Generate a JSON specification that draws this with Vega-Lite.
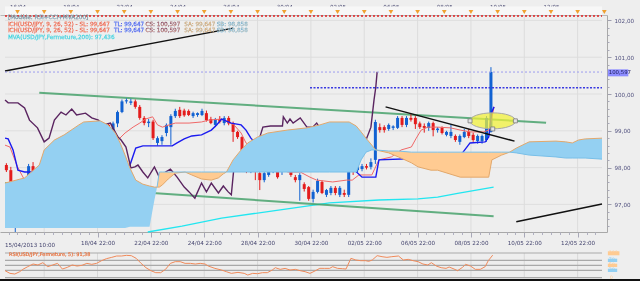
{
"$schema": "https://vega.github.io/schema/vega-lite/v6.json",
"width": 640, "height": 281, "padding": 0,
"autosize": {"type": "none"},
"background": "#eeeeee",
"config": {"view": {"stroke": null}, "font": "DejaVu Sans", "axis": {"grid": false, "labelFont": "DejaVu Sans", "labelOverlap": false}},
"datasets": {
"candles": [
{"t":-2.5,"o":98.07,"h":98.12,"l":97.88,"c":97.93},{"t":-1.5,"o":97.93,"h":98.02,"l":96.7,"c":96.79},{"t":-0.5,"o":96.79,"h":96.95,"l":96.25,"c":96.88},{"t":0.5,"o":96.88,"h":97.4,"l":96.6,"c":97.34},{"t":1.5,"o":97.34,"h":97.72,"l":97.3,"c":97.62},{"t":2.5,"o":97.62,"h":98.1,"l":97.55,"c":98.04},{"t":3.5,"o":98.04,"h":98.15,"l":97.6,"c":97.66},{"t":4.5,"o":97.66,"h":97.75,"l":97.45,"c":97.58},{"t":5.5,"o":97.58,"h":98.05,"l":97.5,"c":97.99},{"t":6.5,"o":97.99,"h":98.45,"l":97.95,"c":98.4},
{"t":7.5,"o":98.4,"h":98.45,"l":98.15,"c":98.21},{"t":8.5,"o":98.21,"h":98.3,"l":98.0,"c":98.07},{"t":9.5,"o":98.07,"h":98.15,"l":97.4,"c":97.45},{"t":10.5,"o":97.45,"h":98.2,"l":97.35,"c":98.12},{"t":11.5,"o":98.12,"h":98.2,"l":97.8,"c":97.88},{"t":12.5,"o":97.88,"h":98.05,"l":97.8,"c":98.0},{"t":13.5,"o":98.0,"h":98.2,"l":97.95,"c":98.15},{"t":14.5,"o":98.15,"h":98.4,"l":98.1,"c":98.34},{"t":15.5,"o":98.34,"h":98.4,"l":98.1,"c":98.13},{"t":16.5,"o":98.13,"h":98.25,"l":98.05,"c":98.18},
{"t":17.5,"o":98.18,"h":98.28,"l":98.1,"c":98.22},{"t":18.5,"o":98.22,"h":98.52,"l":98.15,"c":98.48},{"t":19.5,"o":98.48,"h":99.2,"l":98.45,"c":99.16},{"t":20.5,"o":99.16,"h":99.2,"l":98.95,"c":99.02},{"t":21.5,"o":99.02,"h":99.25,"l":98.98,"c":99.2},{"t":22.5,"o":99.2,"h":99.55,"l":99.1,"c":99.51},{"t":23.5,"o":99.51,"h":99.85,"l":99.48,"c":99.8},{"t":24.5,"o":99.8,"h":99.88,"l":99.74,"c":99.83},{"t":25.5,"o":99.76,"h":99.87,"l":99.7,"c":99.8},{"t":26.5,"o":99.8,"h":99.85,"l":99.6,"c":99.65},
{"t":27.5,"o":99.65,"h":99.7,"l":99.3,"c":99.35},{"t":28.5,"o":99.35,"h":99.4,"l":99.15,"c":99.21},{"t":29.5,"o":99.21,"h":99.32,"l":99.1,"c":99.25},{"t":30.5,"o":99.25,"h":99.3,"l":98.75,"c":98.8},{"t":31.5,"o":98.67,"h":98.85,"l":98.6,"c":98.8},{"t":32.5,"o":98.72,"h":98.88,"l":98.62,"c":98.83},{"t":33.5,"o":98.94,"h":99.2,"l":98.85,"c":99.16},{"t":34.5,"o":99.1,"h":99.45,"l":98.62,"c":99.4},{"t":35.5,"o":99.4,"h":99.6,"l":99.35,"c":99.54},{"t":36.5,"o":99.57,"h":99.65,"l":99.35,"c":99.4},
{"t":37.5,"o":99.55,"h":99.6,"l":99.38,"c":99.42},{"t":38.5,"o":99.54,"h":99.58,"l":99.4,"c":99.43},{"t":39.5,"o":99.4,"h":99.52,"l":99.35,"c":99.48},{"t":40.5,"o":99.43,"h":99.5,"l":99.38,"c":99.48},{"t":41.5,"o":99.43,"h":99.6,"l":99.4,"c":99.54},{"t":42.5,"o":99.48,"h":99.55,"l":99.25,"c":99.29},{"t":43.5,"o":99.32,"h":99.38,"l":99.18,"c":99.21},{"t":44.5,"o":99.16,"h":99.35,"l":99.1,"c":99.32},{"t":45.5,"o":99.32,"h":99.4,"l":99.2,"c":99.25},{"t":46.5,"o":99.21,"h":99.4,"l":99.15,"c":99.35},
{"t":47.5,"o":99.35,"h":99.4,"l":99.15,"c":99.2},{"t":48.5,"o":99.21,"h":99.25,"l":98.7,"c":98.97},{"t":49.5,"o":98.97,"h":99.0,"l":98.78,"c":98.83},{"t":50.5,"o":98.83,"h":98.85,"l":98.45,"c":98.48},{"t":51.5,"o":98.45,"h":98.5,"l":97.85,"c":97.93},{"t":52.5,"o":97.93,"h":98.1,"l":97.85,"c":98.07},{"t":53.5,"o":97.96,"h":98.05,"l":97.66,"c":97.88},{"t":54.5,"o":97.85,"h":97.9,"l":97.39,"c":97.66},{"t":55.5,"o":97.66,"h":97.9,"l":97.6,"c":97.85},{"t":56.5,"o":97.8,"h":98.0,"l":97.75,"c":97.99},
{"t":57.5,"o":97.88,"h":98.21,"l":97.85,"c":98.07},{"t":58.5,"o":98.04,"h":98.1,"l":97.7,"c":97.74},{"t":59.5,"o":97.88,"h":98.0,"l":97.8,"c":97.96},{"t":60.5,"o":97.93,"h":98.05,"l":97.88,"c":97.96},{"t":61.5,"o":97.93,"h":97.98,"l":97.75,"c":97.8},{"t":62.5,"o":97.74,"h":97.8,"l":97.6,"c":97.66},{"t":63.5,"o":97.66,"h":97.85,"l":97.1,"c":97.8},{"t":64.5,"o":97.55,"h":97.6,"l":97.35,"c":97.42},{"t":65.5,"o":97.47,"h":97.5,"l":97.1,"c":97.15},{"t":66.5,"o":97.15,"h":97.4,"l":97.05,"c":97.34},
{"t":67.5,"o":97.34,"h":97.7,"l":97.3,"c":97.64},{"t":68.5,"o":97.61,"h":97.65,"l":97.28,"c":97.31},{"t":69.5,"o":97.26,"h":97.42,"l":97.2,"c":97.39},{"t":70.5,"o":97.31,"h":97.5,"l":97.25,"c":97.45},{"t":71.5,"o":97.45,"h":97.5,"l":97.25,"c":97.31},{"t":72.5,"o":97.26,"h":97.5,"l":97.2,"c":97.45},{"t":73.5,"o":97.31,"h":97.4,"l":97.2,"c":97.26},{"t":74.5,"o":97.26,"h":98.4,"l":97.2,"c":98.07},{"t":75.5,"o":98.02,"h":98.1,"l":97.8,"c":97.88},{"t":76.5,"o":97.93,"h":98.1,"l":97.88,"c":98.04},
{"t":77.5,"o":97.96,"h":98.1,"l":97.9,"c":98.04},{"t":78.5,"o":98.04,"h":98.1,"l":97.95,"c":98.0},{"t":79.5,"o":98.02,"h":98.25,"l":97.95,"c":98.15},{"t":80.5,"o":98.21,"h":99.3,"l":98.1,"c":99.24},{"t":81.5,"o":99.1,"h":99.2,"l":98.95,"c":99.02},{"t":82.5,"o":99.1,"h":99.15,"l":98.95,"c":99.02},{"t":83.5,"o":99.05,"h":99.2,"l":99.0,"c":99.16},{"t":84.5,"o":99.08,"h":99.15,"l":99.02,"c":99.12},{"t":85.5,"o":99.08,"h":99.4,"l":99.05,"c":99.35},{"t":86.5,"o":99.35,"h":99.4,"l":99.1,"c":99.16},
{"t":87.5,"o":99.16,"h":99.4,"l":99.1,"c":99.35},{"t":88.5,"o":99.35,"h":99.45,"l":99.25,"c":99.3},{"t":89.5,"o":99.35,"h":99.4,"l":99.05,"c":99.18},{"t":90.5,"o":99.2,"h":99.25,"l":99.05,"c":99.1},{"t":91.5,"o":99.13,"h":99.2,"l":98.95,"c":99.08},{"t":92.5,"o":99.08,"h":99.25,"l":99.0,"c":99.21},{"t":93.5,"o":99.21,"h":99.25,"l":98.85,"c":99.02},{"t":94.5,"o":99.02,"h":99.1,"l":98.95,"c":99.06},{"t":95.5,"o":99.08,"h":99.12,"l":98.9,"c":98.94},{"t":96.5,"o":98.89,"h":99.0,"l":98.85,"c":98.97},
{"t":97.5,"o":98.86,"h":99.16,"l":98.8,"c":98.97},{"t":98.5,"o":98.86,"h":98.9,"l":98.7,"c":98.75},{"t":99.5,"o":98.7,"h":98.9,"l":98.62,"c":98.86},{"t":100.5,"o":98.83,"h":99.05,"l":98.8,"c":98.97},{"t":101.5,"o":98.97,"h":99.05,"l":98.8,"c":98.86},{"t":102.5,"o":98.89,"h":98.95,"l":98.7,"c":98.75},{"t":103.5,"o":98.72,"h":98.9,"l":98.65,"c":98.86},{"t":104.5,"o":98.72,"h":98.9,"l":98.65,"c":98.86},{"t":105.5,"o":98.75,"h":99.4,"l":98.7,"c":99.35},{"t":106.5,"o":98.97,"h":100.73,"l":98.95,"c":100.6}
],
"tenkan": [
{"t":-2.8,"v":98.61},{"t":-1.7,"v":98.56},{"t":0.0,"v":98.02},{"t":1.6,"v":97.66},{"t":3.2,"v":97.34},{"t":4.5,"v":97.12},{"t":6.5,"v":97.07},{"t":7.8,"v":97.07},{"t":8.9,"v":97.26},{"t":10.5,"v":97.47},{"t":13.1,"v":97.8},{"t":14.9,"v":97.88},{"t":16.7,"v":97.93},{"t":18.2,"v":97.99},{"t":19.3,"v":98.29},{"t":20.4,"v":98.42},{"t":21.5,"v":98.56},{"t":22.6,"v":98.75},{"t":24.2,"v":98.94},{"t":26.0,"v":99.1},{"t":27.5,"v":99.21},{"t":28.8,"v":99.32},{"t":30.4,"v":99.38},{"t":31.5,"v":99.16},{"t":32.6,"v":99.1},{"t":34.1,"v":99.16},{"t":35.5,"v":99.21},{"t":38.6,"v":99.21},{"t":41.4,"v":99.24},{"t":43.0,"v":99.29},{"t":45.9,"v":99.32},{"t":48.7,"v":99.16},{"t":50.3,"v":98.94},{"t":51.4,"v":98.67},{"t":52.1,"v":98.61},{"t":53.2,"v":98.53},{"t":54.7,"v":98.34},{"t":56.9,"v":98.26},{"t":59.1,"v":98.15},{"t":60.7,"v":97.88},{"t":63.6,"v":97.88},{"t":65.8,"v":97.74},{"t":67.3,"v":97.66},{"t":70.9,"v":97.61},{"t":74.0,"v":97.66},{"t":75.3,"v":97.66},{"t":76.8,"v":97.8},{"t":79.7,"v":97.8},{"t":81.3,"v":98.21},{"t":84.1,"v":98.29},{"t":86.3,"v":98.48},{"t":88.6,"v":98.56},{"t":89.7,"v":98.8},{"t":90.8,"v":99.02},{"t":92.3,"v":99.1},{"t":94.5,"v":99.1},{"t":97.4,"v":99.08},{"t":99.6,"v":99.02},{"t":101.8,"v":98.97},{"t":104.9,"v":98.97},{"t":106.0,"v":99.02},{"t":106.7,"v":99.35},{"t":107.2,"v":99.65}
],
"kijun": [
{"t":-2.8,"v":98.8},{"t":-2.1,"v":98.78},{"t":-1.0,"v":98.48},{"t":0.1,"v":97.93},{"t":1.6,"v":97.88},{"t":12.0,"v":97.88},{"t":13.1,"v":97.74},{"t":14.9,"v":97.61},{"t":17.5,"v":97.47},{"t":18.9,"v":97.31},{"t":20.9,"v":97.58},{"t":23.1,"v":97.85},{"t":25.3,"v":98.07},{"t":26.6,"v":98.53},{"t":28.2,"v":98.59},{"t":34.8,"v":98.59},{"t":35.9,"v":98.67},{"t":37.5,"v":98.78},{"t":39.2,"v":98.86},{"t":41.4,"v":98.89},{"t":43.6,"v":99.02},{"t":44.8,"v":99.16},{"t":45.9,"v":99.32},{"t":48.1,"v":99.21},{"t":50.3,"v":99.16},{"t":51.4,"v":99.02},{"t":52.5,"v":98.8},{"t":54.0,"v":98.61},{"t":62.9,"v":98.59},{"t":64.2,"v":98.42},{"t":65.8,"v":98.32},{"t":70.9,"v":98.29},{"t":72.9,"v":98.26},{"t":74.2,"v":98.15},{"t":75.3,"v":97.99},{"t":77.5,"v":97.74},{"t":80.6,"v":97.74},{"t":81.3,"v":98.21},{"t":92.3,"v":98.26},{"t":99.0,"v":98.29},{"t":100.1,"v":98.4},{"t":101.8,"v":98.67},{"t":105.2,"v":98.7},{"t":106.0,"v":98.83},{"t":106.7,"v":99.51},{"t":107.2,"v":99.65}
],
"chikou": [
{"t":-2.8,"v":99.84},{"t":-2.1,"v":99.76},{"t":0.1,"v":99.76},{"t":1.6,"v":99.62},{"t":2.7,"v":99.29},{"t":4.5,"v":99.08},{"t":6.0,"v":98.7},{"t":7.1,"v":98.8},{"t":8.3,"v":99.29},{"t":9.8,"v":99.51},{"t":10.9,"v":99.43},{"t":12.2,"v":99.59},{"t":13.3,"v":99.43},{"t":15.3,"v":99.48},{"t":16.7,"v":99.35},{"t":18.2,"v":99.29},{"t":19.3,"v":99.16},{"t":20.9,"v":99.21},{"t":22.6,"v":98.83},{"t":23.3,"v":98.75},{"t":24.4,"v":98.56},{"t":25.5,"v":97.99},{"t":26.4,"v":98.02},{"t":27.1,"v":98.07},{"t":28.2,"v":97.88},{"t":29.3,"v":97.72},{"t":30.8,"v":98.02},{"t":31.9,"v":97.74},{"t":33.3,"v":97.88},{"t":34.4,"v":97.96},{"t":35.9,"v":97.74},{"t":37.5,"v":97.47},{"t":38.6,"v":97.34},{"t":39.9,"v":97.17},{"t":41.4,"v":97.58},{"t":42.5,"v":97.34},{"t":43.6,"v":97.58},{"t":45.2,"v":97.31},{"t":46.3,"v":97.5},{"t":47.4,"v":97.34},{"t":48.1,"v":97.26},{"t":48.7,"v":98.02},{"t":50.3,"v":97.96},{"t":51.8,"v":97.96},{"t":52.9,"v":97.99},{"t":54.0,"v":98.13},{"t":54.3,"v":98.75},{"t":55.2,"v":99.1},{"t":56.9,"v":99.13},{"t":59.6,"v":99.13},{"t":59.8,"v":99.38},{"t":60.7,"v":99.21},{"t":61.3,"v":99.32},{"t":62.0,"v":99.21},{"t":63.6,"v":99.35},{"t":65.1,"v":99.1},{"t":66.4,"v":99.1},{"t":67.3,"v":99.21},{"t":68.0,"v":99.08},{"t":69.5,"v":99.08},{"t":70.6,"v":98.94},{"t":71.7,"v":99.02},{"t":73.1,"v":98.75},{"t":74.6,"v":98.97},{"t":76.2,"v":98.89},{"t":77.5,"v":98.72},{"t":78.4,"v":98.75},{"t":79.5,"v":99.1},{"t":80.2,"v":99.84},{"t":80.6,"v":100.19},{"t":80.9,"v":100.6}
],
"cloud": [
{"seg":"c1","kind":"bull","t":-2.81,"sa":97.58,"sb":96.36},{"seg":"c1","kind":"bull","t":1.6,"sa":97.72,"sb":96.36},{"seg":"c1","kind":"bull","t":4.9,"sa":98.07,"sb":96.36},{"seg":"c1","kind":"bull","t":6.0,"sa":98.48,"sb":96.36},{"seg":"c1","kind":"bull","t":8.3,"sa":98.75,"sb":96.36},{"seg":"c1","kind":"bull","t":10.5,"sa":98.89,"sb":96.36},{"seg":"c1","kind":"bull","t":13.8,"sa":99.16,"sb":96.36},{"seg":"c1","kind":"bull","t":14.9,"sa":99.24,"sb":96.36},{"seg":"c1","kind":"bull","t":18.6,"sa":99.27,"sb":96.36},{"seg":"c1","kind":"bull","t":20.4,"sa":99.16,"sb":96.36},{"seg":"c1","kind":"bull","t":22.0,"sa":98.94,"sb":96.36},{"seg":"c1","kind":"bull","t":23.1,"sa":98.67,"sb":96.36},{"seg":"c1","kind":"bull","t":24.2,"sa":98.34,"sb":96.36},{"seg":"c1","kind":"bull","t":25.3,"sa":97.99,"sb":96.39},{"seg":"c1","kind":"bull","t":26.6,"sa":97.66,"sb":96.39},{"seg":"c1","kind":"bull","t":28.2,"sa":97.55,"sb":96.39},{"seg":"c1","kind":"bull","t":29.7,"sa":97.5,"sb":96.39},{"seg":"c1","kind":"bull","t":30.8,"sa":97.47,"sb":97.12},{"seg":"c1","kind":"bull","t":31.4,"sa":97.47,"sb":97.47},
{"seg":"c2","kind":"bear","t":31.4,"sa":97.47,"sb":97.47},{"seg":"c2","kind":"bear","t":31.9,"sa":97.47,"sb":97.88},{"seg":"c2","kind":"bear","t":32.6,"sa":97.53,"sb":97.88},{"seg":"c2","kind":"bear","t":33.9,"sa":97.69,"sb":97.88},{"seg":"c2","kind":"bear","t":35.5,"sa":97.85,"sb":97.88},{"seg":"c2","kind":"bear","t":37.7,"sa":97.88,"sb":97.88},{"seg":"c2","kind":"bear","t":39.2,"sa":97.8,"sb":97.88},{"seg":"c2","kind":"bear","t":41.4,"sa":97.69,"sb":97.88},{"seg":"c2","kind":"bear","t":43.6,"sa":97.66,"sb":97.88},{"seg":"c2","kind":"bear","t":45.2,"sa":97.72,"sb":97.88},{"seg":"c2","kind":"bear","t":46.3,"sa":97.83,"sb":97.88},{"seg":"c2","kind":"bear","t":47.0,"sa":97.88,"sb":97.88},
{"seg":"c3","kind":"bull","t":47.0,"sa":97.88,"sb":97.88},{"seg":"c3","kind":"bull","t":48.5,"sa":98.21,"sb":97.88},{"seg":"c3","kind":"bull","t":50.3,"sa":98.48,"sb":97.88},{"seg":"c3","kind":"bull","t":51.8,"sa":98.67,"sb":97.88},{"seg":"c3","kind":"bull","t":54.0,"sa":98.83,"sb":97.88},{"seg":"c3","kind":"bull","t":56.3,"sa":98.94,"sb":97.88},{"seg":"c3","kind":"bull","t":60.7,"sa":99.02,"sb":97.88},{"seg":"c3","kind":"bull","t":65.1,"sa":99.08,"sb":97.88},{"seg":"c3","kind":"bull","t":68.0,"sa":99.16,"sb":97.88},{"seg":"c3","kind":"bull","t":70.2,"sa":99.24,"sb":97.88},{"seg":"c3","kind":"bull","t":74.6,"sa":99.24,"sb":97.88},{"seg":"c3","kind":"bull","t":76.2,"sa":99.13,"sb":97.88},{"seg":"c3","kind":"bull","t":77.3,"sa":98.97,"sb":98.21},{"seg":"c3","kind":"bull","t":78.4,"sa":98.8,"sb":98.42},{"seg":"c3","kind":"bull","t":79.7,"sa":98.61,"sb":98.48},{"seg":"c3","kind":"bull","t":80.6,"sa":98.48,"sb":98.48},
{"seg":"c4","kind":"bear","t":80.6,"sa":98.48,"sb":98.48},{"seg":"c4","kind":"bear","t":83.5,"sa":98.4,"sb":98.45},{"seg":"c4","kind":"bear","t":85.7,"sa":98.29,"sb":98.45},{"seg":"c4","kind":"bear","t":88.6,"sa":98.13,"sb":98.42},{"seg":"c4","kind":"bear","t":90.1,"sa":98.02,"sb":98.42},{"seg":"c4","kind":"bear","t":93.0,"sa":97.93,"sb":98.42},{"seg":"c4","kind":"bear","t":94.5,"sa":97.93,"sb":98.42},{"seg":"c4","kind":"bear","t":99.6,"sa":97.74,"sb":98.42},{"seg":"c4","kind":"bear","t":106.0,"sa":97.74,"sb":98.42},{"seg":"c4","kind":"bear","t":106.7,"sa":98.21,"sb":98.42},{"seg":"c4","kind":"bear","t":108.9,"sa":98.34,"sb":98.42},{"seg":"c4","kind":"bear","t":110.7,"sa":98.42,"sb":98.42},
{"seg":"c5","kind":"bull","t":110.7,"sa":98.42,"sb":98.42},{"seg":"c5","kind":"bull","t":112.2,"sa":98.53,"sb":98.4},{"seg":"c5","kind":"bull","t":115.1,"sa":98.7,"sb":98.34},{"seg":"c5","kind":"bull","t":121.1,"sa":98.72,"sb":98.29},{"seg":"c5","kind":"bull","t":123.3,"sa":98.7,"sb":98.26},{"seg":"c5","kind":"bull","t":124.8,"sa":98.67,"sb":98.26},{"seg":"c5","kind":"bull","t":126.2,"sa":98.75,"sb":98.26},{"seg":"c5","kind":"bull","t":127.7,"sa":98.78,"sb":98.26},{"seg":"c5","kind":"bull","t":131.48,"sa":98.8,"sb":98.23}
],
"rsi": [
{"t":-2.8,"r":28.4},{"t":-1.7,"r":17.6},{"t":-0.6,"r":14.9},{"t":0.5,"r":24.3},{"t":1.2,"r":33.8},{"t":2.3,"r":44.6},{"t":3.5,"r":55.4},{"t":4.6,"r":51.4},{"t":5.7,"r":60.8},{"t":6.8,"r":44.6},{"t":7.9,"r":51.4},{"t":9.0,"r":58.1},{"t":10.1,"r":35.1},{"t":11.2,"r":41.9},{"t":12.3,"r":51.4},{"t":13.4,"r":47.3},{"t":14.5,"r":50.0},{"t":15.6,"r":58.1},{"t":16.7,"r":54.1},{"t":17.8,"r":58.1},{"t":18.9,"r":68.9},{"t":20.0,"r":77.0},{"t":21.2,"r":82.4},{"t":22.3,"r":87.8},{"t":23.4,"r":87.8},{"t":24.5,"r":90.5},{"t":25.6,"r":89.2},{"t":26.7,"r":78.4},{"t":27.8,"r":58.1},{"t":28.9,"r":40.5},{"t":30.0,"r":28.4},{"t":31.1,"r":20.3},{"t":32.2,"r":20.3},{"t":33.3,"r":33.8},{"t":34.4,"r":58.1},{"t":35.5,"r":64.9},{"t":36.6,"r":64.9},{"t":37.7,"r":58.1},{"t":38.9,"r":58.1},{"t":40.0,"r":55.4},{"t":41.1,"r":58.1},{"t":42.2,"r":55.4},{"t":42.9,"r":47.3},{"t":44.4,"r":37.8},{"t":45.9,"r":31.1},{"t":47.0,"r":24.3},{"t":48.1,"r":17.6},{"t":49.6,"r":21.6},{"t":51.0,"r":17.6},{"t":51.8,"r":10.8},{"t":52.9,"r":17.6},{"t":54.0,"r":16.2},{"t":55.1,"r":20.3},{"t":56.2,"r":20.3},{"t":57.3,"r":31.1},{"t":58.0,"r":40.5},{"t":59.1,"r":33.8},{"t":60.2,"r":37.8},{"t":61.3,"r":31.1},{"t":62.5,"r":33.8},{"t":63.6,"r":28.4},{"t":64.7,"r":24.3},{"t":65.8,"r":17.6},{"t":66.9,"r":27.0},{"t":68.0,"r":38.0},{"t":69.1,"r":37.8},{"t":70.2,"r":37.8},{"t":70.9,"r":44.6},{"t":72.0,"r":37.8},{"t":73.1,"r":36.5},{"t":73.9,"r":35.1},{"t":75.0,"r":78.4},{"t":76.1,"r":71.6},{"t":77.2,"r":68.9},{"t":78.3,"r":68.9},{"t":79.0,"r":66.2},{"t":79.8,"r":71.6},{"t":80.9,"r":89.2},{"t":82.0,"r":85.1},{"t":83.1,"r":82.4},{"t":84.2,"r":85.1},{"t":85.7,"r":87.8},{"t":86.8,"r":71.6},{"t":87.9,"r":74.3},{"t":89.0,"r":68.9},{"t":90.1,"r":64.9},{"t":91.2,"r":55.4},{"t":92.3,"r":51.4},{"t":93.1,"r":60.8},{"t":94.2,"r":47.3},{"t":95.3,"r":40.5},{"t":96.4,"r":37.8},{"t":97.1,"r":43.2},{"t":98.2,"r":35.1},{"t":99.0,"r":28.4},{"t":100.1,"r":41.9},{"t":100.8,"r":54.1},{"t":101.9,"r":47.3},{"t":103.0,"r":33.8},{"t":104.1,"r":33.8},{"t":105.2,"r":44.6},{"t":105.9,"r":68.9},{"t":106.9,"r":91.4}
],
"grid": [{"t":6},{"t":18},{"t":30},{"t":42},{"t":54},{"t":66},{"t":78},{"t":90},{"t":102},{"t":114},{"t":126}]
},
"resolve": {"scale": {"y": "independent"}, "axis": {"x": "independent", "y": "independent"}},
"layer": [
{
"layer": [
{"data": {"values": [{"a": 1}]}, "mark": {"type": "rect", "color": "#f7f7f7"},
 "encoding": {
  "x": {"datum": -2.81, "type": "quantitative", "scale": {"domain": [-2.81, 131.48], "range": [0, 607], "nice": false, "zero": false},
   "axis": {"orient": "top", "offset": -15, "title": null, "grid": false,
    "values": [0,6,12,18,24,30,36,42,48,54,60,66,72,78,84,90,96,102,108,114,120,126],
    "labelExpr": "['16/04','17/04','18/04','19/04','22/04','23/04','24/04','25/04','26/04','29/04','30/04','Mai','02/05','03/05','06/05','07/05','08/05','09/05','10/05','11/05','12/05','13/05'][round(datum.value / 6)]",
    "tickSize": 3, "tickColor": "#a8a8b8", "domainColor": "#b8b8b8", "labelFontSize": 5.6, "labelColor": "#44446e", "labelPadding": 2.5, "labelOverlap": false, "labelBound": false, "labelFlush": false}},
  "x2": {"datum": 131.48},
  "y": {"datum": 102.147, "type": "quantitative", "scale": {"domain": [96.25, 102.147], "range": [232, 15], "nice": false, "zero": false},
   "axis": {"orient": "right", "offset": -33, "title": null, "grid": false,
    "values": [97, 98, 99, 100, 101, 102],
    "labelExpr": "replace(format(datum.value, '.2f'), '.', ',')",
    "tickSize": 4, "tickColor": "#a0a0b0", "domainColor": "#a8a8a8", "labelFontSize": 5.6, "labelColor": "#50507e", "labelPadding": 3, "labelOverlap": false, "labelBound": false, "labelFlush": false}},
  "y2": {"datum": 102.378}
 }},
{"data": {"values": [{"v":97},{"v":98},{"v":99},{"v":100},{"v":101},{"v":102}]}, "mark": {"type": "rule", "color": "#dedede", "strokeWidth": 1},
 "encoding": {"x": {"datum": -2.81, "type": "quantitative"}, "x2": {"datum": 131.48}, "y": {"field": "v", "type": "quantitative"}}},
{"data": {"name": "grid"}, "mark": {"type": "rule", "color": "#dcdcdc", "strokeWidth": 1},
 "encoding": {"x": {"field": "t", "type": "quantitative"}, "y": {"datum": 96.25, "type": "quantitative"}, "y2": {"datum": 102.147}}},
{"data": {"values": [{"t":29.3,"v":96.25},{"t":37.0,"v":96.41},{"t":45.9,"v":96.63},{"t":59.1,"v":96.85},{"t":70.2,"v":97.04},{"t":81.3,"v":97.12},{"t":90.1,"v":97.15},{"t":94.5,"v":97.2},{"t":99.0,"v":97.3},{"t":107.1,"v":97.47}]},
 "mark": {"type": "line", "color": "#22e6f0", "strokeWidth": 1.3},
 "encoding": {"x": {"field": "t", "type": "quantitative"}, "y": {"field": "v", "type": "quantitative"}}},
{"data": {"values": [{"id":"up","t":4.9,"v":100.035},{"id":"up","t":118.9,"v":99.22},{"id":"lo","t":-2.81,"v":97.58},{"id":"lo","t":107.1,"v":96.68}]},
 "mark": {"type": "line", "color": "#3d9e64", "strokeWidth": 2, "opacity": 0.8},
 "encoding": {"x": {"field": "t", "type": "quantitative"}, "y": {"field": "v", "type": "quantitative"}, "detail": {"field": "id"}}},
{"data": {"name": "candles"}, "mark": {"type": "rule", "strokeWidth": 1},
 "encoding": {"x": {"field": "t", "type": "quantitative"}, "y": {"field": "l", "type": "quantitative"}, "y2": {"field": "h"},
  "color": {"condition": {"test": "datum.c >= datum.o", "value": "#1262d2"}, "value": "#e41c1c"}}},
{"data": {"name": "candles"}, "mark": {"type": "bar", "size": 3},
 "encoding": {"x": {"field": "t", "type": "quantitative"}, "y": {"field": "o", "type": "quantitative"}, "y2": {"field": "c"},
  "color": {"condition": {"test": "datum.c >= datum.o", "value": "#1262d2"}, "value": "#e41c1c"}}},
{"data": {"name": "tenkan"}, "mark": {"type": "line", "color": "#f06868", "strokeWidth": 1},
 "encoding": {"x": {"field": "t", "type": "quantitative"}, "y": {"field": "v", "type": "quantitative"}}},
{"data": {"name": "kijun"}, "mark": {"type": "line", "color": "#1a1af0", "strokeWidth": 1.4},
 "encoding": {"x": {"field": "t", "type": "quantitative"}, "y": {"field": "v", "type": "quantitative"}}},
{"data": {"name": "chikou"}, "mark": {"type": "line", "color": "#5a2460", "strokeWidth": 1.4},
 "encoding": {"x": {"field": "t", "type": "quantitative"}, "y": {"field": "v", "type": "quantitative"}}},
{"data": {"name": "cloud"}, "mark": {"type": "area", "blend": "multiply", "clip": true},
 "encoding": {"x": {"field": "t", "type": "quantitative"}, "y": {"field": "sa", "type": "quantitative"}, "y2": {"field": "sb"}, "detail": {"field": "seg"},
  "color": {"field": "kind", "type": "nominal", "scale": {"domain": ["bull", "bear"], "range": ["#94d0f2", "#ffcb92"]}, "legend": null}}},
{"data": {"name": "cloud"}, "mark": {"type": "line", "color": "#e2a86c", "strokeWidth": 1, "clip": true},
 "encoding": {"x": {"field": "t", "type": "quantitative"}, "y": {"field": "sa", "type": "quantitative"}}},
{"data": {"name": "cloud"}, "transform": [{"filter": "datum.t >= 31"}], "mark": {"type": "line", "color": "#78bfe8", "strokeWidth": 1, "clip": true},
 "encoding": {"x": {"field": "t", "type": "quantitative"}, "y": {"field": "sb", "type": "quantitative"}}},
{"data": {"values": [{"id":"a","t":-2.81,"v":100.625},{"id":"a","t":48.5,"v":101.79},{"id":"b","t":82.8,"v":99.65},{"id":"b","t":111.8,"v":98.72},{"id":"c","t":112.2,"v":96.53},{"id":"c","t":131.48,"v":97.01}]},
 "mark": {"type": "line", "color": "#111111", "strokeWidth": 1.5},
 "encoding": {"x": {"field": "t", "type": "quantitative"}, "y": {"field": "v", "type": "quantitative"}, "detail": {"field": "id"}}},
{"data": {"values": [{"t":-2.81,"v":102.12},{"t":131.48,"v":102.12}]}, "mark": {"type": "line", "color": "#e02020", "strokeWidth": 1.3, "strokeDash": [2, 2]},
 "encoding": {"x": {"field": "t", "type": "quantitative"}, "y": {"field": "v", "type": "quantitative"}}},
{"data": {"values": [{"t":-2.81,"v":100.597},{"t":131.48,"v":100.597}]}, "mark": {"type": "line", "color": "#9c9cee", "strokeWidth": 1, "strokeDash": [2, 2]},
 "encoding": {"x": {"field": "t", "type": "quantitative"}, "y": {"field": "v", "type": "quantitative"}}},
{"data": {"values": [{"t":65.8,"v":100.17},{"t":131.48,"v":100.17}]}, "mark": {"type": "line", "color": "#3a3ae0", "strokeWidth": 1.5, "strokeDash": [2, 1.5]},
 "encoding": {"x": {"field": "t", "type": "quantitative"}, "y": {"field": "v", "type": "quantitative"}}},
{"data": {"values": [{"t":106.9,"v":99.27}]},
 "mark": {"type": "point", "shape": "M-1,0C-1,-0.192,-0.5523,-0.348,0,-0.348C0.5523,-0.348,1,-0.192,1,0C1,0.192,0.5523,0.348,0,0.348C-0.5523,0.348,-1,0.192,-1,0Z", "size": 2116, "filled": true, "color": "#f2f236", "fillOpacity": 0.72, "stroke": "#a8a8a8", "strokeWidth": 1, "strokeOpacity": 1},
 "encoding": {"x": {"field": "t", "type": "quantitative"}, "y": {"field": "v", "type": "quantitative"}}},
{"data": {"values": [{"t":101.8,"v":99.27},{"t":112.0,"v":99.27},{"t":106.9,"v":99.05}]},
 "mark": {"type": "point", "shape": "square", "size": 16, "filled": true, "color": "#e4e4e4", "stroke": "#7a7a7a", "strokeWidth": 0.8, "opacity": 1},
 "encoding": {"x": {"field": "t", "type": "quantitative"}, "y": {"field": "v", "type": "quantitative"}}},
{"data": {"values": [{"t":0},{"t":6},{"t":12},{"t":18},{"t":24},{"t":30},{"t":36},{"t":42},{"t":48},{"t":54},{"t":60},{"t":66},{"t":72},{"t":78},{"t":84},{"t":90},{"t":96},{"t":102},{"t":108},{"t":114},{"t":120},{"t":126},{"t":132}]},
 "mark": {"type": "point", "shape": "triangle-down", "size": 22, "filled": true, "color": "#f0a030", "opacity": 1},
 "encoding": {"x": {"field": "t", "type": "quantitative"}, "y": {"datum": 102.228, "type": "quantitative"}}},
{"data": {"values": [
  {"key":"model","t":-2.15,"v":102.09,"txt":"[Modèle: RSI+CCI+MVA200]"},
  {"key":"SL","t":-2.15,"v":101.9,"txt":"ICH(USD/JPY, 9, 26, 52) -  SL: 99,647"},
  {"key":"TL","t":21.7,"v":101.9,"txt":"TL: 99,647"},
  {"key":"CS","t":28.8,"v":101.9,"txt":"CS: 100,597"},
  {"key":"SA","t":37.5,"v":101.9,"txt":"SA: 99,647"},
  {"key":"SB","t":44.8,"v":101.9,"txt":"SB: 98,858"},
  {"key":"SL","t":-2.15,"v":101.73,"txt":"ICH(USD/JPY, 9, 26, 52) -  SL: 99,647"},
  {"key":"TL","t":21.7,"v":101.73,"txt":"TL: 99,647"},
  {"key":"CS","t":28.8,"v":101.73,"txt":"CS: 100,597"},
  {"key":"SA","t":37.5,"v":101.73,"txt":"SA: 99,647"},
  {"key":"SB","t":44.8,"v":101.73,"txt":"SB: 98,858"},
  {"key":"MVA","t":-2.15,"v":101.56,"txt":"MVA(USD/JPY,Fermeture,200): 97,436"}]},
 "mark": {"type": "text", "align": "left", "baseline": "middle", "fontSize": 5.7, "strokeWidth": 0.25},
 "encoding": {"x": {"field": "t", "type": "quantitative"}, "y": {"field": "v", "type": "quantitative"}, "text": {"field": "txt"},
  "color": {"field": "key", "type": "nominal", "scale": {"domain": ["model","SL","TL","CS","SA","SB","MVA"], "range": ["#787878","#e43030","#2828f0","#5c1e5c","#f09840","#40a8ec","#22d8d8"]}, "legend": null},
  "stroke": {"field": "key", "type": "nominal", "scale": {"domain": ["model","SL","TL","CS","SA","SB","MVA"], "range": ["#787878","#e43030","#2828f0","#5c1e5c","#f09840","#40a8ec","#22d8d8"]}, "legend": null}}},
{"data": {"values": [{"a": 1}]}, "mark": {"type": "rect", "color": "#8c8cff"},
 "encoding": {"x": {"datum": 132.8, "type": "quantitative"}, "x2": {"datum": 137.4}, "y": {"datum": 100.67, "type": "quantitative"}, "y2": {"datum": 100.48}}},
{"data": {"values": [{"t": 133.0, "v": 100.597, "txt": "100,597"}]}, "mark": {"type": "text", "align": "left", "baseline": "middle", "fontSize": 5.4, "color": "#1c1c5a"},
 "encoding": {"x": {"field": "t", "type": "quantitative"}, "y": {"field": "v", "type": "quantitative"}, "text": {"field": "txt"}}},
{"data": {"values": [{"t": -2.81, "v": 95.91, "txt": "15/04/2013 10:00"}]}, "mark": {"type": "text", "align": "left", "baseline": "middle", "fontSize": 5.6, "color": "#44446e"},
 "encoding": {"x": {"field": "t", "type": "quantitative"}, "y": {"field": "v", "type": "quantitative"}, "text": {"field": "txt"}}}
]
},
{
"layer": [
{"data": {"name": "grid"}, "mark": {"type": "rule", "color": "#d8d8d8", "strokeWidth": 1},
 "encoding": {
  "x": {"field": "t", "type": "quantitative", "scale": {"domain": [-2.81, 131.48], "range": [0, 607], "nice": false, "zero": false},
   "axis": {"orient": "bottom", "offset": -49, "title": null, "grid": false,
    "values": [18,30,42,54,66,78,90,102,114,126],
    "labelExpr": "['','18/04 22:00','22/04 22:00','24/04 22:00','28/04 22:00','30/04 22:00','02/05 22:00','06/05 22:00','08/05 22:00','10/05 22:00','12/05 22:00'][round((datum.value - 6) / 12)]",
    "tickSize": 5, "tickColor": "#a8a8b8", "domainColor": "#a8a8a8", "labelFontSize": 5.6, "labelColor": "#44446e", "labelPadding": 3, "labelOverlap": false, "labelBound": false, "labelFlush": false}},
  "y": {"datum": 0, "type": "quantitative", "scale": {"domain": [0, 100], "range": [277.7, 253], "nice": false, "zero": false}, "axis": null},
  "y2": {"datum": 100}}},
{"data": {"values": [{"r":100},{"r":70},{"r":50},{"r":30},{"r":0}]}, "mark": {"type": "rule", "color": "#a9a9a9", "strokeWidth": 1.2},
 "encoding": {"x": {"datum": -2.81, "type": "quantitative"}, "x2": {"datum": 131.48}, "y": {"field": "r", "type": "quantitative"}}},
{"data": {"name": "rsi"}, "mark": {"type": "line", "color": "#f08a5a", "strokeWidth": 1},
 "encoding": {"x": {"field": "t", "type": "quantitative"}, "y": {"field": "r", "type": "quantitative"}}},
{"data": {"values": [{"t": -1.9, "r": 90, "txt": "RSI(USD/JPY,Fermeture, 5): 91,38"}]}, "mark": {"type": "text", "align": "left", "baseline": "middle", "fontSize": 4.9, "color": "#e8703c", "stroke": "#e8703c", "strokeWidth": 0.2},
 "encoding": {"x": {"field": "t", "type": "quantitative"}, "y": {"field": "r", "type": "quantitative"}, "text": {"field": "txt"}}},
{"data": {"values": [{"k":"100","t0":132.8,"t1":135.4,"r0":106.9,"r1":90.7},{"k":"70","t0":132.8,"t1":134.9,"r0":76.9,"r1":63.6},{"k":"50","t0":132.8,"t1":134.9,"r0":56.7,"r1":43.3},{"k":"30","t0":132.8,"t1":134.9,"r0":36.4,"r1":23.1}]},
 "mark": {"type": "rect"},
 "encoding": {"x": {"field": "t0", "type": "quantitative"}, "x2": {"field": "t1"}, "y": {"field": "r0", "type": "quantitative"}, "y2": {"field": "r1"},
  "color": {"field": "k", "type": "nominal", "scale": {"domain": ["100","70","50","30"], "range": ["#c4c4c4","#3a3a70","#3a3a70","#3a3a70"]}, "legend": null}}},
{"data": {"values": [{"k":"100","t":133.0,"r":98.8},{"k":"70","t":133.0,"r":70},{"k":"50","t":133.0,"r":50},{"k":"30","t":133.0,"r":30},{"k":"0","t":133.2,"r":0}]},
 "mark": {"type": "text", "align": "left", "baseline": "middle", "fontSize": 4.8},
 "encoding": {"x": {"field": "t", "type": "quantitative"}, "y": {"field": "r", "type": "quantitative"}, "text": {"field": "k"},
  "color": {"field": "k", "type": "nominal", "scale": {"domain": ["100","70","50","30","0"], "range": ["#303030","#a8a8e0","#c8c8e8","#a8a8e0","#303030"]}, "legend": null}}},
{"data": {"values": [{"a": 1}]}, "mark": {"type": "rect", "color": "#111111"},
 "encoding": {"x": {"datum": -5, "type": "quantitative"}, "x2": {"datum": 142}, "y": {"datum": -5.6, "type": "quantitative"}, "y2": {"datum": -20}}}
]
},
{
"data": {"values": [{"a": 1}]},
"mark": {"type": "point", "opacity": 0},
"encoding": {
  "x": {"datum": 50, "type": "quantitative", "scale": {"domain": [-2.81, 131.48], "range": [0, 607], "nice": false, "zero": false},
   "axis": {"orient": "top", "offset": -15, "title": null, "grid": false, "labels": false, "domain": false,
    "values": [-2,-1,0,1,2,3,4,5,6,7,8,9,10,11,12,13,14,15,16,17,18,19,20,21,22,23,24,25,26,27,28,29,30,31,32,33,34,35,36,37,38,39,40,41,42,43,44,45,46,47,48,49,50,51,52,53,54,55,56,57,58,59,60,61,62,63,64,65,66,67,68,69,70,71,72,73,74,75,76,77,78,79,80,81,82,83,84,85,86,87,88,89,90,91,92,93,94,95,96,97,98,99,100,101,102,103,104,105,106,107,108,109,110,111,112,113,114,115,116,117,118,119,120,121,122,123,124,125,126,127,128,129,130,131],
    "tickSize": 2.5, "tickColor": "#b0b0c0"}},
  "y": {"datum": 100, "type": "quantitative", "scale": {"domain": [96.25, 102.147], "range": [232, 15], "nice": false, "zero": false},
   "axis": {"orient": "right", "offset": -33, "title": null, "grid": false, "labels": false, "domain": false,
    "values": [96.4,96.6,96.8,97.2,97.4,97.6,97.8,98.2,98.4,98.6,98.8,99.2,99.4,99.6,99.8,100.2,100.4,100.6,100.8,101.2,101.4,101.6,101.8],
    "tickSize": 2, "tickColor": "#a8a8b8"}}
}
},
{
"data": {"values": [{"a": 1}]},
"mark": {"type": "point", "opacity": 0},
"encoding": {
  "x": {"datum": 50, "type": "quantitative", "scale": {"domain": [-2.81, 131.48], "range": [0, 607], "nice": false, "zero": false},
   "axis": {"orient": "bottom", "offset": -49, "title": null, "grid": false, "labels": false, "domain": false,
    "values": [-2,0,2,4,6,8,10,12,14,16,20,22,24,26,28,32,34,36,38,40,44,46,48,50,52,56,58,60,62,64,68,70,72,74,76,80,82,84,86,88,92,94,96,98,100,104,106,108,110,112,116,118,120,122,124,128,130],
    "tickSize": 2.5, "tickColor": "#b0b0c0"}},
  "y": {"datum": 50, "type": "quantitative", "scale": {"domain": [0, 100], "range": [277.7, 253], "nice": false, "zero": false}, "axis": null}
}
}
]
}
